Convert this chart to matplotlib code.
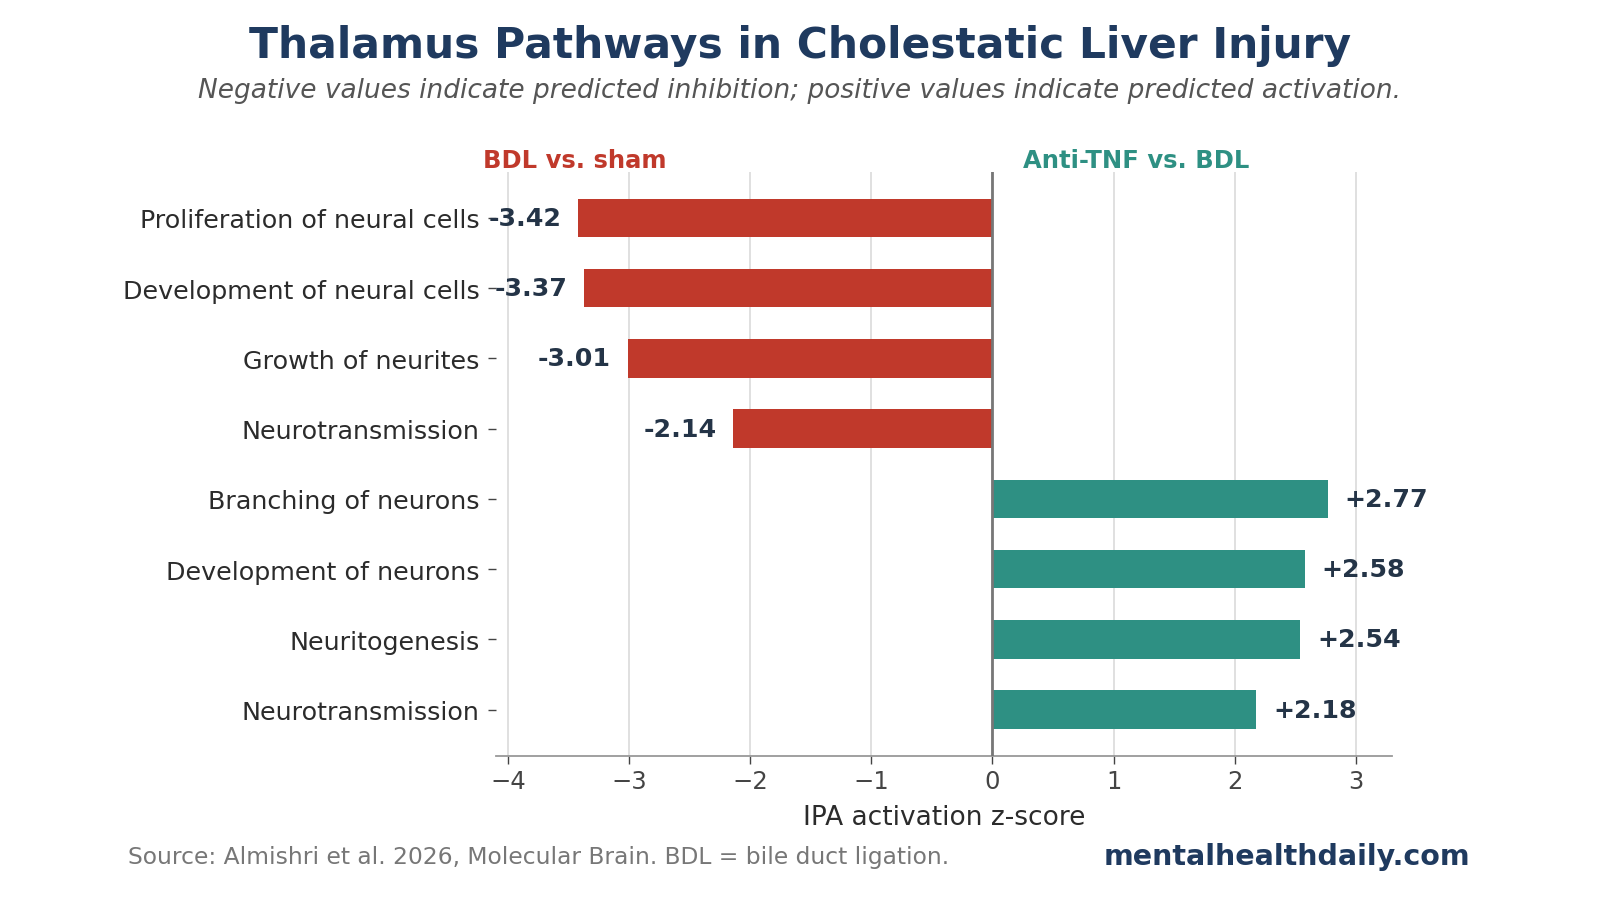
import numpy as np
import matplotlib
matplotlib.use("Agg")
import matplotlib.pyplot as plt

# Data
pathways = ["Proliferation of neural cells", "Development of neural cells",
            "Growth of neurites", "Neurotransmission",
            "Branching of neurons", "Development of neurons",
            "Neuritogenesis", "Neurotransmission"]
zscores = [-3.42, -3.37, -3.01, -2.14, 2.77, 2.58, 2.54, 2.18]
groups = ["BDL vs. sham"] * 4 + ["Anti-TNF vs. BDL"] * 4

RED = "#c0392b"
TEAL = "#2e9083"
NAVY = "#1f3a5f"
LABEL = "#243447"

colors = [RED if g == "BDL vs. sham" else TEAL for g in groups]
y = np.arange(len(pathways))

fig = plt.figure(figsize=(16, 9.12), dpi=100)
ax = fig.add_axes([0.31, 0.17, 0.56, 0.64])

ax.barh(y, zscores, height=0.55, color=colors, zorder=3)
ax.axvline(0, color="#777777", lw=2, zorder=4)

# value labels
for yi, v in zip(y, zscores):
    if v < 0:
        ax.text(v - 0.14, yi, f"{v:.2f}", ha="right", va="center",
                fontsize=18.2, fontweight="bold", color=LABEL, zorder=5)
    else:
        ax.text(v + 0.14, yi, f"+{v:.2f}", ha="left", va="center",
                fontsize=18.2, fontweight="bold", color=LABEL, zorder=5)

ax.set_yticks(y)
ax.set_yticklabels(pathways, fontsize=18.3, color="#2b2b2b")
ax.set_ylim(7.66, -0.65)
ax.set_xlim(-4.1, 3.3)
ax.set_xticks(range(-4, 4))
ax.tick_params(axis="x", labelsize=17.5, colors="#444444", length=6, width=1)
ax.tick_params(axis="y", length=6, width=1, color="#444444", pad=6)
for lbl in ax.get_xticklabels():
    lbl.set_color("#444444")
ax.set_xlabel("IPA activation z-score", fontsize=19, color="#2b2b2b", labelpad=8)

ax.grid(axis="x", color="#dddddd", lw=1.3, zorder=0)
ax.set_axisbelow(True)
for s in ["top", "right", "left"]:
    ax.spines[s].set_visible(False)
ax.spines["bottom"].set_color("#999999")
ax.spines["bottom"].set_linewidth(1.3)

# group headers
ax.text(-3.45, -0.65, "BDL vs. sham", ha="center", va="bottom", fontsize=17.5,
        fontweight="bold", color=RED)
ax.text(1.19, -0.65, "Anti-TNF vs. BDL", ha="center", va="bottom", fontsize=17.5,
        fontweight="bold", color=TEAL)

fig.text(0.5, 0.950, "Thalamus Pathways in Cholestatic Liver Injury", ha="center",
         va="center", fontsize=30.5, fontweight="bold", color=NAVY)
fig.text(0.5, 0.900, "Negative values indicate predicted inhibition; positive values indicate predicted activation.",
         ha="center", va="center", fontsize=19, style="italic", color="#555555")

fig.text(0.08, 0.06, "Source: Almishri et al. 2026, Molecular Brain. BDL = bile duct ligation.",
         ha="left", va="center", fontsize=16.8, color="#777777")
fig.text(0.919, 0.06, "mentalhealthdaily.com", ha="right", va="center",
         fontsize=20.5, fontweight="bold", color=NAVY)

fig.savefig("out.png", dpi=100)
